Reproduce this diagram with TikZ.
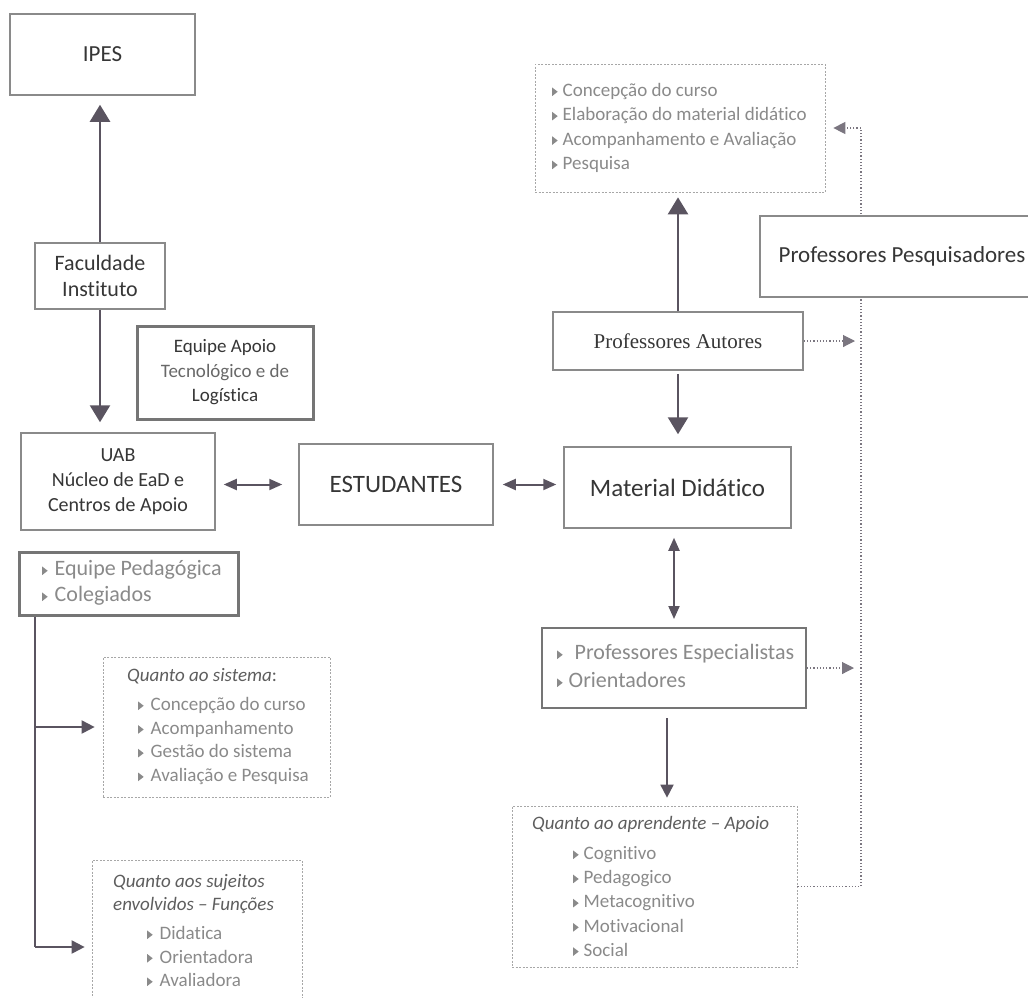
\documentclass[tikz,border=0pt]{standalone}
\usepackage{fontspec}
\setmainfont{Carlito}[Ligatures={TeX,NoCommon}]
\newfontfamily\autfont{Liberation Serif}
\usetikzlibrary{arrows.meta}

\definecolor{txt}{HTML}{363636}
\definecolor{lite}{HTML}{8A8A8A}
\definecolor{edge}{HTML}{8A8A8A}
\definecolor{arr}{HTML}{5A5460}

% small triangular bullet used in the lists
\newcommand\tri{\tikz[baseline=0pt,x=1pt,y=1pt]\fill[lite] (0,0.5) -- (0,9) -- (5.5,4.75) -- cycle;}
\newcommand\fs[1]{\fontsize{#1}{#1}\selectfont}

\tikzset{
  box/.style={draw=edge, line width=1.5pt, fill=white, inner sep=0pt, text=txt, align=center},
  heavybox/.style={box, line width=3pt, draw=edge!85!black},
  dbox/.style={draw=edge!75, line width=0.7pt, dash pattern=on 2pt off 1.5pt, fill=white, inner sep=0pt},
  item/.style={anchor=west, inner sep=0pt, text=lite, font=\fs{19}, text height=13pt, text depth=4pt},
  bigitem/.style={item, font=\fs{22}},
  title/.style={anchor=west, inner sep=0pt, text=txt!80, font=\itshape\fs{19}, text height=13pt, text depth=4pt},
  big/.style={draw=arr, line width=2.5pt, -{Triangle[width=20pt,length=17pt]}},
  mid/.style={draw=arr, line width=2pt, -{Triangle[width=13pt,length=13pt]}},
  both/.style={draw=arr, line width=2pt, {Triangle[width=11pt,length=13pt]}-{Triangle[width=11pt,length=13pt]}},
  branch/.style={draw=arr, line width=2pt},
  dots/.style={draw=arr!80, line width=1.1pt, dash pattern=on 1.2pt off 2pt, -{Triangle[width=12pt,length=12pt,sep=0pt]}}
}

\begin{document}
\begin{tikzpicture}[x=1pt,y=-1pt]
\useasboundingbox (0,0) rectangle (1028,997);

% ---- left column -------------------------------------------------
\node[box, minimum width=185pt, minimum height=81pt, font=\fs{23}] (ipes) at (102.5,54.5) {IPES};
\node[box, minimum width=130pt, minimum height=66pt, font=\fontsize{22}{26}\selectfont] (fac) at (100,276) {Faculdade\\Instituto};
\node[heavybox, minimum width=176pt, minimum height=93pt, font=\fontsize{19}{24.5}\selectfont] (apoio) at (225,372.5)
  {Equipe Apoio\\\textcolor{txt!75}{Tecnológico e de}\\Logística};
\node[box, minimum width=194pt, minimum height=97pt, font=\fontsize{20}{25}\selectfont] (uab) at (118,481.5)
  {UAB\\Núcleo de EaD e\\Centros de Apoio};

\node[heavybox, minimum width=219pt, minimum height=63pt] (eqped) at (128.5,583.5) {};
\node[bigitem] (ep1) at (42,571) {\tri\hspace{7pt}Equipe Pedagógica};
\node[bigitem] (ep2) at (42,597) {\tri\hspace{7pt}Colegiados};

\node[dbox, minimum width=227pt, minimum height=140pt] (sis) at (216.5,727) {};
\node[title] (sisT) at (127,677) {Quanto ao sistema\textup{:}};
\foreach \t [count=\i] in {Concepção do curso, Acompanhamento, Gestão do sistema, Avaliação e Pesquisa}
  \node[item] (sis\i) at (138,{706+23.7*(\i-1)}) {\tri\hspace{7pt}\t};

\node[dbox, minimum width=210pt, minimum height=160pt] (suj) at (197,940) {};
\node[title] (sujT1) at (113,883) {Quanto aos sujeitos};
\node[title] (sujT2) at (113,906) {envolvidos – Funções};
\foreach \t [count=\i] in {Didatica, Orientadora, Avaliadora}
  \node[item] (suj\i) at (147,{935+23.5*(\i-1)}) {\tri\hspace{7pt}\t};

% ---- centre ------------------------------------------------------
\node[box, minimum width=194pt, minimum height=81pt, font=\fs{25}] (est) at (396,484.5) {ESTUDANTES};
\node[box, minimum width=227pt, minimum height=81pt, font=\fs{25}] (mat) at (677.5,487.5) {Material Didático};
\node[box, minimum width=250pt, minimum height=58pt, font=\autfont\fs{21}] (aut) at (678,341) {Professores Autores};

\node[dbox, minimum width=290pt, minimum height=128pt] (conc) at (680,128) {};
\foreach \t [count=\i] in {Concepção do curso, Elaboração do material didático, Acompanhamento e Avaliação, Pesquisa}
  \node[item] (conc\i) at (552,{92+24.4*(\i-1)}) {\tri\hspace{5pt}\t};

\node[heavybox, line width=2pt, minimum width=264pt, minimum height=80pt] (esp) at (674,668) {};
\node[bigitem] (esp1) at (557,655) {\tri\hspace{12pt}Professores Especialistas};
\node[bigitem] (esp2) at (557,683) {\tri\hspace{6pt}Orientadores};

\node[dbox, minimum width=285pt, minimum height=161pt] (apr) at (654.5,886.5) {};
\node[title] (aprT) at (532,825) {Quanto ao aprendente – Apoio};
\foreach \t [count=\i] in {Cognitivo, Pedagogico, Metacognitivo, Motivacional, Social}
  \node[item] (apr\i) at (573,{855+24.2*(\i-1)}) {\tri\hspace{5pt}\t};

% ---- dotted feedback rail on the right ---------------------------
\coordinate (rail) at (861,0);
\draw[dots, shorten >=8pt] (apr.east) -- (apr.east -| rail) -- (rail |- conc.east) -- (conc.east);
\draw[dots, shorten >=6pt] (aut.east) -- (aut.east -| rail);
\draw[dots, shorten >=7pt] (esp.east) -- (esp.east -| rail);

\node[box, minimum width=284pt, minimum height=81pt, font=\fs{23}] (pesq) at (902,256.5) {Professores Pesquisadores};

% ---- connectors --------------------------------------------------
\draw[big, shorten >=9pt] (fac.north) -- (fac.north |- ipes.south);
\draw[big, shorten >=10pt] (fac.south) -- (fac.south |- uab.north);
\draw[both, shorten <=8pt, shorten >=16pt] (uab.east |- est.west) -- (est.west);
\draw[both, shorten <=9pt, shorten >=7pt] (est.east) -- (est.east -| mat.west);
\draw[big, shorten >=5pt] (aut.north) -- (aut.north |- conc.south);
\draw[big, shorten <=3pt, shorten >=12pt] (aut.south) -- (aut.south |- mat.north);
\draw[both, shorten <=9pt, shorten >=8pt] (mat.south -| esp.north) -- (esp.north);
\draw[mid, line width=1.8pt, shorten <=9pt, shorten >=8pt] ([xshift=-7pt]esp.south) -- ([xshift=-7pt]esp.south |- apr.north);

% tree from the pedagogical team
\coordinate (trunk) at (35,0);
\coordinate (b2) at (35,947);
\draw[branch] (eqped.south -| trunk) -- (b2);
\draw[mid, shorten >=8pt] (trunk |- sis.west) -- (sis.west);
\draw[mid, shorten >=7pt] (b2) -- (b2 -| suj.west);
\end{tikzpicture}
\end{document}
